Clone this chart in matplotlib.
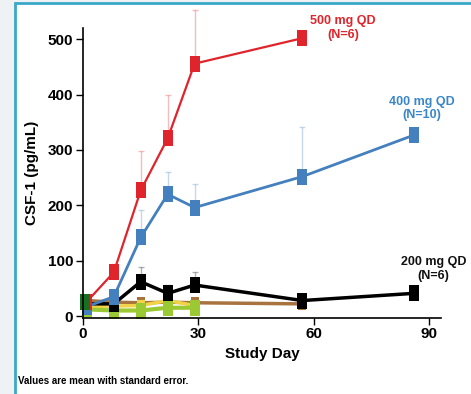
import numpy as np
import matplotlib
matplotlib.use("Agg")
import matplotlib.pyplot as plt
from matplotlib.patches import Rectangle

plt.rcParams['font.family'] = ['Liberation Sans', 'DejaVu Sans']
plt.rcParams['font.weight'] = 'bold'

# study days and mean CSF-1 (pg/mL), upper standard error
days_500 = [1, 8, 15, 22, 29, 57]
mean_500 = [26, 79, 227, 321, 456, 502]
err_500 = [0, 15, 72, 79, 97, 5]

days_400 = [1, 8, 15, 22, 29, 57, 86]
mean_400 = [17, 35, 142, 220, 196, 252, 327]
err_400 = [0, 5, 49, 41, 42, 89, 6]

days_200 = [1, 8, 15, 22, 29, 57, 86]
mean_200 = [22, 22, 62, 41, 56, 28, 41]
err_200 = [0, 0, 27, 15, 23, 6, 4]

days_brown = [1, 8, 15, 22, 29, 57]
mean_brown = [28, 25, 24, 25, 24, 22]
err_brown = [0, 0, 0, 0, 4, 0]

days_yellow = [1, 8, 15, 22, 29]
mean_yellow = [16, 18, 19, 28, 19]
err_yellow = [0, 0, 10, 8, 0]

days_lime = [1, 8, 15, 22, 29]
mean_lime = [12, 10, 10, 15, 15]
err_lime = [0, 0, 0, 0, 0]

days_dkgreen = [0.5]
mean_dkgreen = [26]
err_dkgreen = [0]

W, H = 471, 394
fig = plt.figure(figsize=(W / 100, H / 100), dpi=100)
fig.patch.set_facecolor('#eef2f4')
fig.patches.append(Rectangle((15 / W, -0.1), 1.2, 1 - 3 / H + 0.1, transform=fig.transFigure,
                             facecolor='white', edgecolor='#3aa8c6', linewidth=2, zorder=-10))

ax = fig.add_axes([83 / W, (H - 317.7) / H, 358 / W, 289.5 / H])
ax.set_facecolor('none')

rect = [(-0.6, -1), (0.6, -1), (0.6, 1), (-0.6, 1), (-0.6, -1)]

series = [
    (days_brown, mean_brown, err_brown, '#a8733e', 2.5, 9),
    (days_yellow, mean_yellow, err_yellow, '#f2d246', 2.5, 9),
    (days_lime, mean_lime, err_lime, '#9bc934', 3.0, 11),
    (days_200, mean_200, err_200, '#000000', 2.5, 11),
    (days_400, mean_400, err_400, '#4380bd', 2.0, 11),
    (days_500, mean_500, err_500, '#e0242b', 1.6, 11),
    (days_dkgreen, mean_dkgreen, err_dkgreen, '#17701f', 2.5, 11),
]
for d, m, e, c, lw, ms in series:
    ax.errorbar(d, m, yerr=[np.zeros(len(e)), e], fmt='none', ecolor=c, alpha=0.3,
                elinewidth=1, capsize=2.5, capthick=1, clip_on=False)
    ax.plot(d, m, color=c, lw=lw, marker=rect, markersize=ms, markeredgewidth=0, clip_on=False)

ax.set_xlim(0, 93)
ax.set_ylim(-3, 520)
ax.set_xticks([0, 30, 60, 90])
ax.set_yticks([0, 100, 200, 300, 400, 500])
ax.spines['top'].set_visible(False)
ax.spines['right'].set_visible(False)
for s in ('left', 'bottom'):
    ax.spines[s].set_linewidth(1.2)
ax.tick_params(axis='both', labelsize=11, width=1, length=5, pad=2)
for lab in ax.get_xticklabels() + ax.get_yticklabels():
    lab.set_fontweight('bold')

ax.set_xlabel('Study Day', fontsize=11, fontweight='bold', labelpad=4)
ax.set_ylabel('CSF-1 (pg/mL)', fontsize=11, fontweight='bold', labelpad=6)

ax.text(67.5, 521, '500 mg QD\n(N=6)', color='#e0242b', fontsize=9, fontweight='bold',
        ha='center', va='center', linespacing=1.2, clip_on=False)
ax.text(88, 375, '400 mg QD\n(N=10)', color='#3a86c8', fontsize=9, fontweight='bold',
        ha='center', va='center', linespacing=1.2)
ax.text(91, 85, '200 mg QD\n(N=6)', color='#111111', fontsize=9, fontweight='bold',
        ha='center', va='center', linespacing=1.2)

fig.text(18 / W, 1 - 381 / H, 'Values are mean with standard error.', fontsize=7,
         fontweight='bold', ha='left', va='center')

fig.savefig('out.png', dpi=100, facecolor=fig.get_facecolor())
